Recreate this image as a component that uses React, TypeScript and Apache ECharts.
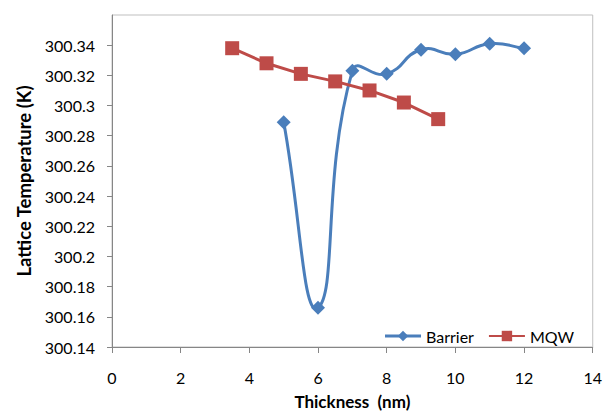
import React, { useEffect, useRef } from "react";
import * as echarts from "echarts";

const barrierX = [5, 6, 7, 8, 9, 10, 11, 12];
const barrierY = [300.289, 300.166, 300.323, 300.321, 300.337, 300.334, 300.341, 300.338];
const mqwX = [3.5, 4.5, 5.5, 6.5, 7.5, 8.5, 9.5];
const mqwY = [300.338, 300.328, 300.321, 300.316, 300.31, 300.302, 300.291];

const FONT = "Lato";
const BLUE = "#4a7ebb";
const RED = "#be4b48";
const SMOOTH = 0.5;

export default function App() {
  const ref = useRef<HTMLDivElement>(null);
  useEffect(() => {
    const chart = echarts.init(ref.current!, null, { renderer: "svg" });
    const barrierData = barrierX.map((x, i) => [x, barrierY[i]]);

    const renderCurve = (params: any, api: any) => {
      const i = params.dataIndex;
      const n = barrierData.length;
      if (i >= n - 1) return null;
      const P = (k: number) => {
        const kk = Math.max(0, Math.min(n - 1, k));
        return api.coord(barrierData[kk]);
      };
      const p0 = P(i - 1);
      const p1 = P(i);
      const p2 = P(i + 1);
      const p3 = P(i + 2);
      const d = (a: number[], b: number[]) => Math.hypot(a[0] - b[0], a[1] - b[1]);
      const d01 = d(p0, p1);
      const d12 = d(p1, p2);
      const d23 = d(p2, p3);
      const r1 = d01 + d12 > 0 ? (d12 / (d01 + d12)) * SMOOTH : 0;
      const r2 = d12 + d23 > 0 ? (d12 / (d12 + d23)) * SMOOTH : 0;
      const cp1 = [p1[0] + (p2[0] - p0[0]) * r1, p1[1] + (p2[1] - p0[1]) * r1];
      const cp2 = [p2[0] - (p3[0] - p1[0]) * r2, p2[1] - (p3[1] - p1[1]) * r2];
      return {
        type: "bezierCurve",
        shape: {
          x1: p1[0],
          y1: p1[1],
          x2: p2[0],
          y2: p2[1],
          cpx1: cp1[0],
          cpy1: cp1[1],
          cpx2: cp2[0],
          cpy2: cp2[1],
        },
        style: { stroke: BLUE, lineWidth: 3, fill: "none", lineCap: "round" },
      };
    };

    chart.setOption({
      animation: false,
      textStyle: { fontFamily: FONT, color: "#000" },
      grid: {
        left: 112,
        top: 15,
        right: 11,
        bottom: 64,
        show: true,
        borderColor: "#bfbfbf",
        borderWidth: 1,
      },
      legend: {
        right: 26,
        top: 323,
        itemWidth: 36,
        itemHeight: 13,
        itemGap: 14,
        textStyle: { fontFamily: FONT, fontSize: 16, color: "#000" },
        data: [
          { name: "Barrier", lineStyle: { color: BLUE, width: 3, opacity: 1 } },
          { name: "MQW" },
        ],
      },
      xAxis: {
        type: "value",
        min: 0,
        max: 14,
        interval: 2,
        name: "Thickness  (nm)",
        nameLocation: "middle",
        nameGap: 46,
        nameTextStyle: { fontFamily: FONT, fontSize: 17, fontWeight: "bold", color: "#000" },
        axisLine: { show: true, lineStyle: { color: "#868686", width: 1 } },
        axisTick: { show: true, inside: false, length: 6, lineStyle: { color: "#868686" } },
        axisLabel: { fontSize: 16, color: "#000", margin: 22, fontFamily: FONT },
        splitLine: { show: false },
      },
      yAxis: {
        type: "value",
        min: 300.14,
        max: 300.36,
        interval: 0.02,
        name: "Lattice Temperature (K)",
        nameLocation: "middle",
        nameGap: 76,
        nameRotate: 90,
        nameTextStyle: { fontFamily: FONT, fontSize: 18.5, fontWeight: "bold", color: "#000" },
        axisLine: { show: true, lineStyle: { color: "#868686", width: 1 } },
        axisTick: { show: true, inside: false, length: 5, lineStyle: { color: "#868686" } },
        axisLabel: {
          fontSize: 16,
          color: "#000",
          margin: 17,
          fontFamily: FONT,
          showMaxLabel: false,
          formatter: (v: number) => String(parseFloat(v.toFixed(2))),
        },
        splitLine: { show: false },
      },
      series: [
        {
          name: "BarrierCurve",
          type: "custom",
          renderItem: renderCurve,
          data: barrierData,
          encode: { x: 0, y: 1 },
          silent: true,
        },
        {
          name: "Barrier",
          type: "line",
          data: barrierData,
          symbol: "diamond",
          symbolSize: 14,
          lineStyle: { color: BLUE, width: 3, opacity: 0 },
          itemStyle: { color: BLUE },
        },
        {
          name: "MQW",
          type: "line",
          data: mqwX.map((x, i) => [x, mqwY[i]]),
          symbol: "rect",
          symbolSize: 14,
          lineStyle: { color: RED, width: 3 },
          itemStyle: { color: RED },
        },
      ],
    });
    return () => chart.dispose();
  }, []);
  return <div ref={ref} style={{ width: 605, height: 415, position: "absolute", left: 0, top: 0 }} />;
}
